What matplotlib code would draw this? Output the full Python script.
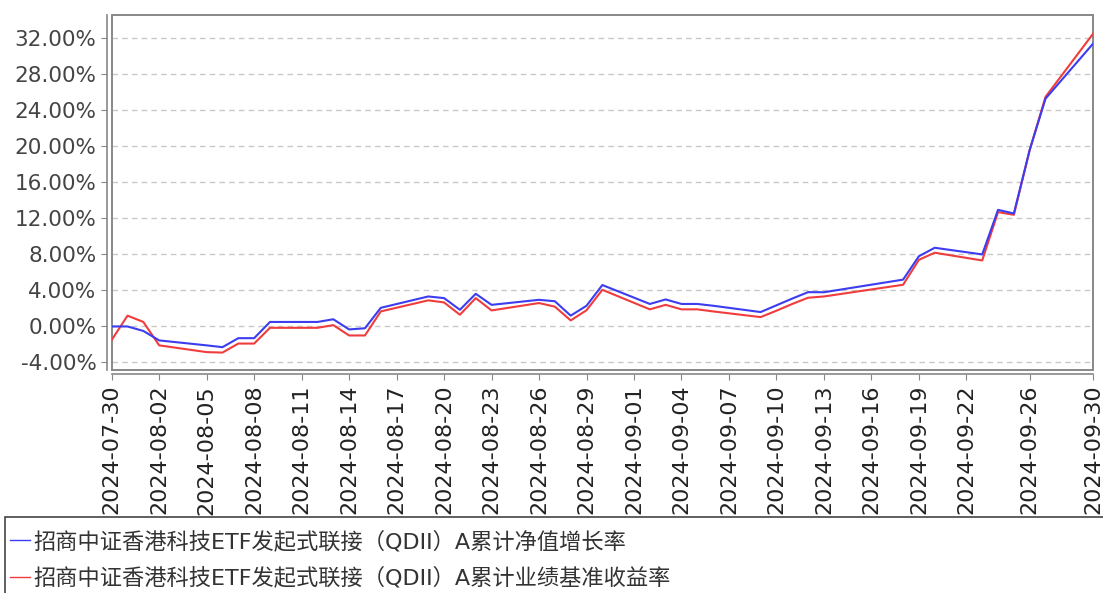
import matplotlib
matplotlib.use("Agg")
import matplotlib.pyplot as plt
import matplotlib.dates as mdates
from matplotlib.patches import Rectangle
from matplotlib.ticker import FuncFormatter
import pandas as pd

# trading days and cumulative returns (%)
dates = ["2024-07-30", "2024-07-31", "2024-08-01", "2024-08-02", "2024-08-05",
         "2024-08-06", "2024-08-07", "2024-08-08", "2024-08-09", "2024-08-12",
         "2024-08-13", "2024-08-14", "2024-08-15", "2024-08-16", "2024-08-19",
         "2024-08-20", "2024-08-21", "2024-08-22", "2024-08-23", "2024-08-26",
         "2024-08-27", "2024-08-28", "2024-08-29", "2024-08-30", "2024-09-02",
         "2024-09-03", "2024-09-04", "2024-09-05", "2024-09-06", "2024-09-09",
         "2024-09-10", "2024-09-11", "2024-09-12", "2024-09-13", "2024-09-18",
         "2024-09-19", "2024-09-20", "2024-09-23", "2024-09-24", "2024-09-25",
         "2024-09-26", "2024-09-27", "2024-09-30"]
nav_growth = [0.0, 0.0, -0.5, -1.55, -2.1,
              -2.3, -1.3, -1.3, 0.5, 0.5,
              0.8, -0.33, -0.2, 2.07, 3.33,
              3.15, 1.85, 3.63, 2.4, 2.96,
              2.8, 1.2, 2.3, 4.6, 2.5,
              3.0, 2.5, 2.5, 2.3, 1.6,
              2.35, 3.1, 3.81, 3.8, 5.2,
              7.8, 8.74, 8.0, 12.95, 12.55,
              19.6, 25.3, 31.4]
benchmark = [-1.5, 1.2, 0.5, -2.1, -2.85,
             -2.9, -1.9, -1.9, -0.15, -0.15,
             0.15, -1.0, -1.0, 1.67, 2.9,
             2.67, 1.3, 3.15, 1.78, 2.6,
             2.2, 0.67, 1.8, 4.07, 1.9,
             2.4, 1.9, 1.9, 1.67, 1.04,
             1.75, 2.5, 3.19, 3.33, 4.63,
             7.4, 8.19, 7.33, 12.7, 12.4,
             19.6, 25.5, 32.5]
tick_dates = ["2024-07-30", "2024-08-02", "2024-08-05", "2024-08-08", "2024-08-11",
              "2024-08-14", "2024-08-17", "2024-08-20", "2024-08-23", "2024-08-26",
              "2024-08-29", "2024-09-01", "2024-09-04", "2024-09-07", "2024-09-10",
              "2024-09-13", "2024-09-16", "2024-09-19", "2024-09-22", "2024-09-26",
              "2024-09-30"]
y_ticks = [-4, 0, 4, 8, 12, 16, 20, 24, 28, 32]
labels = ["招商中证香港科技ETF发起式联接（QDII）A累计净值增长率",
          "招商中证香港科技ETF发起式联接（QDII）A累计业绩基准收益率"]

plt.rcParams['font.family'] = ['DejaVu Sans']
W, H = 1103, 593
fig = plt.figure(figsize=(W / 100, H / 100), dpi=100)
ax = fig.add_axes([111.7 / W, 1 - 369.5 / H, (1093 - 111.7) / W, (369.5 - 15) / H])

x = pd.to_datetime(dates)
l_red, = ax.plot(x, benchmark, color="#f03c3c", lw=1.5)
l_blue, = ax.plot(x, nav_growth, color="#3c3cf0", lw=1.5)

ax.set_xlim(pd.Timestamp("2024-07-30"), pd.Timestamp("2024-09-30"))
ax.set_ylim(-4.78, 34.59)
ax.set_yticks(y_ticks)
ax.yaxis.set_major_formatter(FuncFormatter(lambda v, p: "%.2f%%" % v))
ax.set_xticks(pd.to_datetime(tick_dates))
ax.xaxis.set_major_formatter(mdates.DateFormatter("%Y-%m-%d"))
ax.tick_params(axis='x', rotation=90, labelsize=16, length=4, color="#888888", labelcolor="#222222")
ax.tick_params(axis='y', labelsize=15.5, length=4, color="#888888", labelcolor="#444444")

ax.yaxis.grid(True, linestyle=(0, (4, 3)), color="#c8c8c8", lw=1)
ax.set_axisbelow(True)

for s in ["top", "right"]:
    ax.spines[s].set_visible(False)
for s in ["left", "bottom"]:
    ax.spines[s].set_position(("outward", 3.5))
    ax.spines[s].set_color("#888888")
    ax.spines[s].set_linewidth(1.2)
ax.add_patch(Rectangle((0, 0), 1, 1, transform=ax.transAxes, fill=False,
                       edgecolor="#888888", lw=1.4, clip_on=False))

# legend box below the chart (runs off the bottom/right edge like the original)
fig.add_artist(Rectangle((4.5 / W, -0.1), 1.2, 0.1 + 1 - 517 / H, transform=fig.transFigure,
                         fill=False, edgecolor="#444444", lw=1.2))
leg = fig.legend([l_blue, l_red], labels, loc="upper left",
                 bbox_to_anchor=(10 / W, 1 - 530 / H), frameon=False,
                 borderaxespad=0, borderpad=0, handlelength=0.9, handletextpad=0.15,
                 labelspacing=0.68,
                 prop={'family': ['DejaVu Sans', 'Noto Sans CJK SC'], 'size': 16})
for h in leg.legend_handles:
    h.set_linewidth(1.0)
for t in leg.get_texts():
    t.set_color("#333333")

fig.savefig("out.png", dpi=100)
